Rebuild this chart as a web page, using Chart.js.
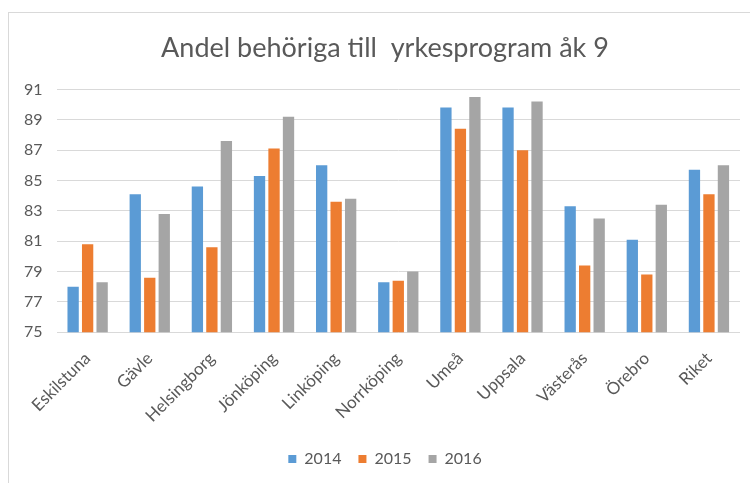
<!DOCTYPE html>
<html>
<head>
<meta charset="utf-8">
<script src="https://cdn.jsdelivr.net/npm/chart.js@4"></script>
<style>
  body { margin: 0; background: #fff; }
  #frame { position: absolute; left: 8px; top: 12px; width: 760px; height: 500px; border: 1px solid #d9d9d9; }
  #wrap { position: absolute; left: 0; top: 0; width: 750px; height: 483px; }
</style>
</head>
<body>
<div id="frame"></div>
<div id="wrap"><canvas id="chart"></canvas></div>
<script>
// cities + national average
var cities = ["Eskilstuna", "Gävle", "Helsingborg", "Jönköping", "Linköping", "Norrköping", "Umeå", "Uppsala", "Västerås", "Örebro", "Riket"];
var v2014 = [78.0, 84.1, 84.6, 85.3, 86.0, 78.3, 89.8, 89.8, 83.3, 81.1, 85.7];
var v2015 = [80.8, 78.6, 80.6, 87.1, 83.6, 78.4, 88.4, 87.0, 79.4, 78.8, 84.1];
var v2016 = [78.3, 82.8, 87.6, 89.2, 83.8, 79.0, 90.5, 90.2, 82.5, 83.4, 86.0];
var yearLabels = ["2014", "2015", "2016"];

var textGrey = '#595959';

// title and legend sit a bit right of centre in the original
var nudge = {
  id: 'nudge',
  afterLayout: function(chart) {
    [chart.titleBlock, chart.legend].forEach(function(b) {
      if (b) { b.left += 10; b.right += 10; }
    });
  }
};

var ctx = document.getElementById('chart');
var myChart = new Chart(ctx, {
  type: 'bar',
  data: {
    labels: cities,
    datasets: [
      { label: yearLabels[0], data: v2014, backgroundColor: '#5b9bd5' },
      { label: yearLabels[1], data: v2015, backgroundColor: '#ed7d31' },
      { label: yearLabels[2], data: v2016, backgroundColor: '#a5a5a5' }
    ]
  },
  plugins: [nudge],
  options: {
    responsive: true,
    maintainAspectRatio: false,
    animation: false,
    datasets: {
      bar: { categoryPercentage: 0.7, barPercentage: 0.78 }
    },
    layout: { padding: { left: 10, right: 10, top: 24, bottom: 6 } },
    plugins: {
      title: {
        display: true,
        text: 'Andel behöriga till  yrkesprogram åk 9',
        color: textGrey,
        font: { family: 'Lato', size: 27, weight: 'normal' },
        padding: { top: 8, bottom: 25 }
      },
      legend: {
        position: 'bottom',
        labels: {
          color: textGrey,
          font: { family: 'Lato', size: 16 },
          boxWidth: 8,
          boxHeight: 8,
          padding: 17
        }
      },
      tooltip: { enabled: false }
    },
    scales: {
      x: {
        grid: { display: false },
        border: { display: false },
        ticks: {
          color: textGrey,
          font: { family: 'Lato', size: 17 },
          minRotation: 45,
          maxRotation: 45,
          autoSkip: false,
          padding: 8
        }
      },
      y: {
        min: 75,
        max: 91,
        grid: { color: '#d9d9d9', drawTicks: false },
        border: { display: false },
        ticks: {
          stepSize: 2,
          color: textGrey,
          font: { family: 'Lato', size: 16 },
          padding: 14
        }
      }
    }
  }
});
</script>
</body>
</html>
